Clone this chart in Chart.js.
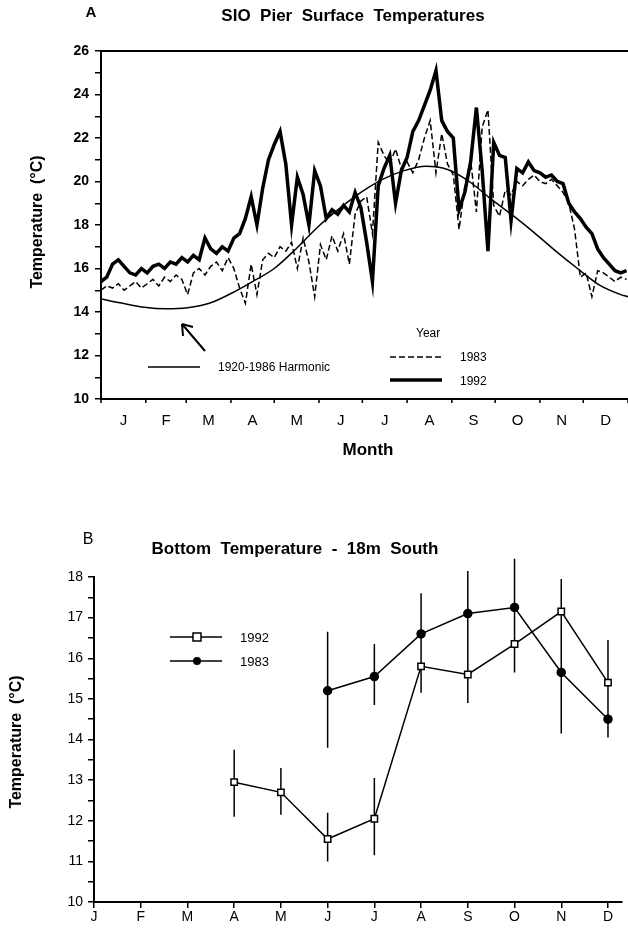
<!DOCTYPE html>
<html>
<head>
<meta charset="utf-8">
<script src="https://cdn.jsdelivr.net/npm/chart.js@4.4.1/dist/chart.umd.min.js"></script>
<style>
  html, body { margin: 0; padding: 0; background: #fff; }
  #wrap { position: relative; width: 628px; height: 928px; }
  #chartA { position: absolute; left: 0; top: 0; }
  #chartB { position: absolute; left: 0; top: 470px; }
</style>
</head>
<body>
<div id="wrap">
  <canvas id="chartA" width="628" height="470"></canvas>
  <canvas id="chartB" width="628" height="458"></canvas>
</div>
<script>
// ---- panel A data: daily pier temps, read every 4 days ----
var DAY_STEP = 4;
var temp1992 = [
  15.4, 15.6, 16.2, 16.4, 16.1, 15.8, 15.7, 16.0, 15.8, 16.1,
  16.2, 16.0, 16.3, 16.2, 16.5, 16.3, 16.6, 16.4, 17.4, 16.9,
  16.7, 17.0, 16.8, 17.4, 17.6, 18.3, 19.3, 18.0, 19.7, 21.0,
  21.7, 22.3, 20.8, 18.0, 20.2, 19.4, 18.0, 20.5, 19.8, 18.3,
  18.7, 18.5, 18.9, 18.6, 19.5, 18.8, 17.2, 15.4, 19.8, 20.6,
  21.2, 19.0, 20.5, 21.1, 22.3, 22.8, 23.5, 24.2, 25.1, 22.8,
  22.3, 22.0, 18.7, 19.5, 20.9, 23.4, 20.5, 16.8, 21.8, 21.2,
  21.1, 18.2, 20.6, 20.4, 20.9, 20.5, 20.4, 20.2, 20.3, 20.0,
  19.9, 19.0, 18.6, 18.3, 17.9, 17.6, 16.9, 16.5, 16.2, 15.9,
  15.8, 15.9
];
var temp1983 = [
  15.0, 15.2, 15.1, 15.3, 15.0, 15.2, 15.4, 15.1, 15.3, 15.5,
  15.2, 15.6, 15.4, 15.7, 15.5, 14.8, 15.8, 16.0, 15.7, 16.1,
  16.3, 15.9, 16.5, 16.0, 15.1, 14.4, 16.2, 14.8, 16.4, 16.7,
  16.5, 17.0, 16.8, 17.2, 16.0, 17.4, 16.3, 14.7, 17.1, 16.4,
  17.5, 16.8, 17.6, 16.2, 18.5, 19.1, 19.3, 17.6, 21.8, 21.2,
  20.8, 21.5, 20.6, 20.9, 20.4, 21.0, 22.0, 22.8, 20.4, 22.2,
  20.8, 20.3, 17.8, 19.8, 21.0, 18.6, 22.5, 23.3, 18.9, 18.4,
  19.6, 19.4, 20.0, 19.8, 20.1, 20.3, 20.0, 19.9, 20.1, 19.8,
  19.5, 19.0, 17.8, 15.6, 15.8, 14.7, 15.9, 15.8, 15.6, 15.4,
  15.6, 15.5
];
var harmonicDays = [0, 15, 30, 45, 60, 75, 90, 105, 120, 135, 150, 165, 180,
  195, 210, 225, 240, 255, 270, 285, 300, 315, 330, 345, 360, 365];
var harmonicTemp = [14.6, 14.4, 14.22, 14.15, 14.2, 14.4, 14.85, 15.4, 16.0, 16.9,
  17.9, 18.75, 19.5, 20.1, 20.5, 20.7, 20.55, 20.0, 19.2, 18.45, 17.65, 16.8,
  16.0, 15.25, 14.8, 14.7];

var MONTH_LETTERS = ['J', 'F', 'M', 'A', 'M', 'J', 'J', 'A', 'S', 'O', 'N', 'D'];
var MONTH_START = [0, 31, 59, 90, 120, 151, 181, 212, 243, 273, 304, 334, 365];

// ---- panel B data: monthly bottom temps with ranges ----
var monthIdx1992 = [3, 4, 5, 6, 7, 8, 9, 10, 11];
var bottom1992 = [12.95, 12.7, 11.55, 12.05, 15.8, 15.6, 16.35, 17.15, 15.4];
var low1992    = [12.1, 12.15, 11.0, 11.15, 15.15, 14.9, 15.65, 16.35, 14.4];
var high1992   = [13.75, 13.3, 12.2, 13.05, 16.4, 16.3, 17.05, 17.95, 16.45];
var monthIdx1983 = [5, 6, 7, 8, 9, 10, 11];
var bottom1983 = [15.2, 15.55, 16.6, 17.1, 17.25, 15.65, 14.5];
var low1983    = [13.8, 14.85, 15.6, 16.3, 16.0, 14.15, 14.05];
var high1983   = [16.65, 16.35, 17.6, 18.15, 18.45, 17.15, 15.05];

var FONT = '"Liberation Sans", Arial, Helvetica, sans-serif';

function toPoints(xs, ys) {
  return ys.map(function(v, i) { return { x: xs[i], y: v }; });
}
function stepPoints(ys) {
  return ys.map(function(v, i) { return { x: i * DAY_STEP, y: v }; });
}

/**
 * panel A extras — title, frame, legend, arrow
 */
var panelAPlugin = {
  id: 'panelA',
  afterDraw: function(chart) {
    var ctx = chart.ctx, a = chart.chartArea, xs = chart.scales.x;
    ctx.save();
    ctx.strokeStyle = '#000';
    ctx.lineWidth = 2;
    ctx.beginPath();
    ctx.moveTo(a.left, a.top);
    ctx.lineTo(a.right, a.top);
    ctx.stroke();

    // month boundary ticks
    ctx.lineWidth = 1.5;
    ctx.beginPath();
    MONTH_START.forEach(function(d) {
      var px = xs.getPixelForValue(d);
      ctx.moveTo(px, a.bottom);
      ctx.lineTo(px, a.bottom + 4);
    });
    ctx.stroke();

    ctx.fillStyle = '#000';
    ctx.textAlign = 'center';
    ctx.textBaseline = 'middle';
    ctx.font = 'bold 17px ' + FONT;
    ctx.fillText('SIO  Pier  Surface  Temperatures', 353, 16);
    ctx.font = 'bold 15px ' + FONT;
    ctx.fillText('A', 91, 13);
    ctx.font = 'bold 17px ' + FONT;
    ctx.fillText('Month', 368, 450);

    ctx.save();
    ctx.translate(38, 222);
    ctx.rotate(-Math.PI / 2);
    ctx.font = 'bold 16px ' + FONT;
    ctx.fillText('Temperature  (\u00B0C)', 0, 0);
    ctx.restore();

    // legend: harmonic
    ctx.lineWidth = 1.5;
    ctx.setLineDash([]);
    ctx.beginPath();
    ctx.moveTo(148, 367); ctx.lineTo(200, 367);
    ctx.stroke();
    ctx.textAlign = 'left';
    ctx.font = '12px ' + FONT;
    ctx.fillText('1920-1986 Harmonic', 218, 368);

    // legend: years
    ctx.fillText('Year', 416, 334);
    ctx.setLineDash([6, 3]);
    ctx.beginPath();
    ctx.moveTo(390, 357); ctx.lineTo(442, 357);
    ctx.stroke();
    ctx.setLineDash([]);
    ctx.lineWidth = 3.5;
    ctx.beginPath();
    ctx.moveTo(390, 380); ctx.lineTo(442, 380);
    ctx.stroke();
    ctx.fillText('1983', 460, 358);
    ctx.fillText('1992', 460, 382);

    // arrow to harmonic curve
    ctx.lineWidth = 2;
    ctx.beginPath();
    ctx.moveTo(205, 351); ctx.lineTo(182, 324);
    ctx.moveTo(182, 324); ctx.lineTo(183, 336);
    ctx.moveTo(182, 324); ctx.lineTo(193, 327);
    ctx.stroke();
    ctx.restore();
  }
};

/**
 * panel B extras — error bars, title, legend
 */
var panelBPlugin = {
  id: 'panelB',
  beforeDatasetsDraw: function(chart) {
    var ctx = chart.ctx, xs = chart.scales.x, ys = chart.scales.y;
    ctx.save();
    ctx.strokeStyle = '#000';
    ctx.lineWidth = 1.5;
    ctx.beginPath();
    monthIdx1992.forEach(function(m, i) {
      var px = xs.getPixelForValue(m);
      ctx.moveTo(px, ys.getPixelForValue(low1992[i]));
      ctx.lineTo(px, ys.getPixelForValue(high1992[i]));
    });
    monthIdx1983.forEach(function(m, i) {
      var px = xs.getPixelForValue(m);
      ctx.moveTo(px, ys.getPixelForValue(low1983[i]));
      ctx.lineTo(px, ys.getPixelForValue(high1983[i]));
    });
    ctx.stroke();
    ctx.restore();
  },
  afterDraw: function(chart) {
    var ctx = chart.ctx;
    ctx.save();
    ctx.fillStyle = '#000';
    ctx.strokeStyle = '#000';
    ctx.textAlign = 'center';
    ctx.textBaseline = 'middle';
    ctx.font = 'bold 17px ' + FONT;
    ctx.fillText('Bottom  Temperature  -  18m  South', 295, 79);
    ctx.font = '16px ' + FONT;
    ctx.fillText('B', 88, 70);

    ctx.save();
    ctx.translate(17, 272);
    ctx.rotate(-Math.PI / 2);
    ctx.font = 'bold 16px ' + FONT;
    ctx.fillText('Temperature  (\u00B0C)', 0, 0);
    ctx.restore();

    // legend
    ctx.lineWidth = 1.5;
    ctx.beginPath();
    ctx.moveTo(170, 167); ctx.lineTo(222, 167);
    ctx.moveTo(170, 191); ctx.lineTo(222, 191);
    ctx.stroke();
    ctx.fillStyle = '#fff';
    ctx.fillRect(193, 163, 8, 8);
    ctx.strokeRect(193, 163, 8, 8);
    ctx.fillStyle = '#000';
    ctx.beginPath();
    ctx.arc(197, 191, 4, 0, Math.PI * 2);
    ctx.fill();
    ctx.textAlign = 'left';
    ctx.font = '13px ' + FONT;
    ctx.fillText('1992', 240, 168);
    ctx.fillText('1983', 240, 192);
    ctx.restore();
  }
};

new Chart(document.getElementById('chartA'), {
  type: 'line',
  data: {
    datasets: [
      {
        label: '1920-1986 Harmonic',
        data: toPoints(harmonicDays, harmonicTemp),
        borderColor: '#000',
        borderWidth: 1.5,
        pointRadius: 0,
        cubicInterpolationMode: 'monotone'
      },
      {
        label: '1992',
        data: stepPoints(temp1992),
        borderColor: '#000',
        borderWidth: 3.5,
        pointRadius: 0,
        tension: 0
      },
      {
        label: '1983',
        data: stepPoints(temp1983),
        borderColor: '#000',
        borderWidth: 1.5,
        borderDash: [6, 3],
        pointRadius: 0,
        tension: 0
      }
    ]
  },
  options: {
    responsive: false,
    animation: false,
    layout: { padding: { top: 51, left: 0, right: 0, bottom: 0 } },
    plugins: { legend: { display: false }, tooltip: { enabled: false } },
    scales: {
      x: {
        type: 'linear',
        min: 0,
        max: 365,
        afterBuildTicks: function(scale) {
          scale.ticks = MONTH_START.slice(0, 12).map(function(d, i) {
            return { value: (d + MONTH_START[i + 1]) / 2 };
          });
        },
        afterFit: function(scale) { scale.height = 71; },
        ticks: {
          autoSkip: false,
          maxRotation: 0,
          padding: 5,
          color: '#000',
          font: { family: FONT, size: 15 },
          callback: function(v, i) { return MONTH_LETTERS[i]; }
        },
        grid: { display: false },
        border: { display: true, color: '#000', width: 2 }
      },
      y: {
        min: 10,
        max: 26,
        afterFit: function(scale) { scale.width = 101; },
        ticks: {
          stepSize: 1,
          padding: 6,
          color: '#000',
          font: { family: FONT, size: 14, weight: 'bold' },
          callback: function(v) { return v % 2 === 0 ? v : ''; }
        },
        grid: { drawOnChartArea: false, tickLength: 6, color: '#000', lineWidth: 1.5 },
        border: { display: true, color: '#000', width: 2 }
      }
    }
  },
  plugins: [panelAPlugin]
});

new Chart(document.getElementById('chartB'), {
  type: 'line',
  data: {
    datasets: [
      {
        label: '1992',
        data: toPoints(monthIdx1992, bottom1992),
        borderColor: '#000',
        borderWidth: 1.5,
        pointStyle: 'rect',
        pointRadius: 4.5,
        pointBackgroundColor: '#fff',
        pointBorderColor: '#000',
        pointBorderWidth: 1.5,
        tension: 0
      },
      {
        label: '1983',
        data: toPoints(monthIdx1983, bottom1983),
        borderColor: '#000',
        borderWidth: 1.5,
        pointStyle: 'circle',
        pointRadius: 4,
        pointBackgroundColor: '#000',
        pointBorderColor: '#000',
        tension: 0
      }
    ]
  },
  options: {
    responsive: false,
    animation: false,
    layout: { padding: { top: 107, left: 0, right: 3, bottom: 0 } },
    plugins: { legend: { display: false }, tooltip: { enabled: false } },
    scales: {
      x: {
        type: 'linear',
        min: 0,
        max: 11.3,
        afterBuildTicks: function(scale) {
          scale.ticks = MONTH_LETTERS.map(function(m, i) { return { value: i }; });
        },
        afterFit: function(scale) { scale.height = 26; },
        ticks: {
          autoSkip: false,
          maxRotation: 0,
          padding: 1,
          color: '#000',
          font: { family: FONT, size: 14 },
          callback: function(v, i) { return MONTH_LETTERS[i]; }
        },
        grid: { drawOnChartArea: false, tickLength: 6, color: '#000', lineWidth: 1.5 },
        border: { display: true, color: '#000', width: 2 }
      },
      y: {
        min: 10,
        max: 18,
        afterFit: function(scale) { scale.width = 94; },
        ticks: {
          stepSize: 0.5,
          padding: 5,
          color: '#000',
          font: { family: FONT, size: 14 },
          callback: function(v) { return v % 1 === 0 ? v : ''; }
        },
        grid: { drawOnChartArea: false, tickLength: 6, color: '#000', lineWidth: 1.5 },
        border: { display: true, color: '#000', width: 2 }
      }
    }
  },
  plugins: [panelBPlugin]
});
</script>
</body>
</html>
